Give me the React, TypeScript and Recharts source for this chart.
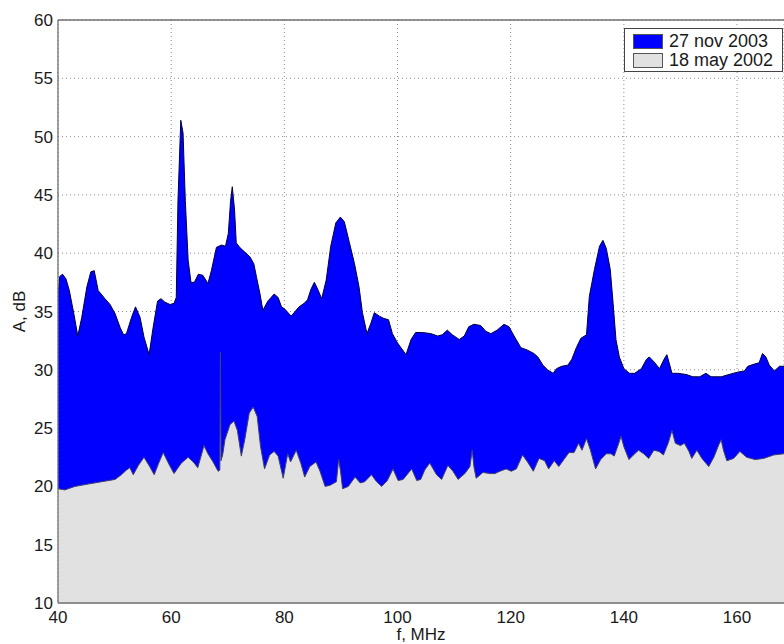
import { AreaChart, Area, XAxis, YAxis, CartesianGrid, ReferenceLine, Label } from "recharts";

// 27 nov 2003 spectrum (upper, blue)
const novFreq = [
  40.0, 40.3, 40.8, 41.4, 42.0, 42.8, 43.5, 44.2, 45.1, 45.8, 46.4, 47.1, 48.3, 49.2, 50.1, 51.0, 51.6, 52.1,
  53.0, 53.7, 54.5, 55.2, 56.1, 56.8, 57.6, 58.2, 58.9, 59.8, 60.5, 60.9, 61.2, 61.7, 62.1, 62.5, 63.0, 63.5,
  64.1, 64.8, 65.6, 66.5, 67.1, 68.0, 68.9, 69.6, 70.1, 70.5, 70.8, 71.2, 71.5, 72.1, 73.0, 73.9, 74.6, 75.1,
  75.7, 76.2, 77.1, 78.2, 78.9, 79.5, 80.1, 81.2, 82.6, 83.5, 84.1, 84.7, 85.3, 85.9, 86.6, 87.4, 88.2, 89.1,
  89.9, 90.6, 91.5, 92.4, 93.2, 93.8, 94.6, 95.3, 95.9, 96.8, 97.6, 98.4, 99.1, 100.0, 100.9, 101.5, 102.4,
  103.2, 104.4, 105.9, 107.1, 107.9, 108.8, 109.7, 110.9, 111.8, 112.6, 113.5, 114.7, 115.6, 116.5, 117.6,
  118.8, 119.7, 120.6, 121.8, 122.9, 124.1, 124.8, 125.7, 126.5, 127.5, 128.1, 129.0, 130.1, 130.8, 131.6,
  132.4, 133.4, 133.9, 134.8, 135.7, 136.3, 136.9, 137.6, 138.1, 138.6, 139.2, 140.0, 141.0, 141.9, 143.1,
  144.0, 144.5, 145.3, 146.3, 147.1, 147.6, 148.0, 148.5, 149.5, 151.0, 152.2, 153.4, 154.5, 155.4, 157.2,
  158.6, 160.1, 161.3, 161.9, 163.1, 163.9, 164.5, 165.1, 165.7, 166.6, 167.5, 168.3,
];
const novLevel = [
  36.2, 38.0, 38.2, 37.8, 36.8, 34.8, 32.9, 34.5, 37.1, 38.4, 38.5, 36.8, 36.1, 35.6, 34.8, 33.6, 33.0, 33.1,
  34.5, 35.4, 34.5, 32.8, 31.3, 33.6, 35.9, 36.1, 35.8, 35.6, 35.7, 36.2, 44.5, 51.4, 50.3, 44.5, 39.4, 37.5,
  37.5, 38.2, 38.1, 37.4, 38.5, 40.5, 40.7, 40.6, 41.7, 44.5, 45.7, 43.7, 40.9, 40.5, 40.1, 39.7, 39.1, 37.9,
  36.5, 35.1, 35.9, 36.5, 36.2, 35.4, 35.2, 34.6, 35.4, 35.7, 36.0, 36.9, 37.5, 36.9, 36.1, 37.7, 40.6, 42.6,
  43.1, 42.7, 40.9, 39.1, 37.1, 34.9, 33.1, 34.0, 34.9, 34.6, 34.4, 34.3, 33.1, 32.3, 31.7, 31.3, 32.6,
  33.2, 33.2, 33.1, 32.9, 33.0, 33.4, 33.0, 32.6, 32.9, 33.7, 33.9, 33.8, 33.3, 33.1, 33.4,
  33.9, 33.7, 32.9, 31.9, 31.7, 31.4, 31.1, 30.4, 30.0, 29.7, 30.1, 30.3, 30.4, 30.9, 31.9,
  32.7, 33.0, 36.3, 38.6, 40.6, 41.1, 40.4, 38.6, 35.7, 32.6, 31.1, 30.1, 29.7, 29.7, 30.1,
  30.9, 31.1, 30.7, 30.1, 30.9, 31.3, 30.6, 29.7, 29.7, 29.6, 29.4, 29.4, 29.7, 29.4, 29.4,
  29.6, 29.8, 29.9, 30.3, 30.5, 30.6, 31.4, 31.1, 30.4, 29.9, 30.3, 30.3,
];

// 18 may 2002 spectrum (lower, grey)
const mayFreq = [
  40.0, 41.2, 43.0, 45.3, 47.7, 50.1, 51.2, 52.1, 52.7, 53.3, 54.2, 55.2, 56.2, 57.0, 57.8, 58.6, 59.5, 60.5,
  61.8, 63.0, 63.9, 64.7, 65.4, 65.8, 66.5, 67.4, 68.3, 68.6, 68.7, 68.8, 69.1, 69.5, 70.4, 71.1, 71.7, 72.4,
  73.0, 73.8, 74.5, 75.2, 75.8, 76.5, 77.4, 78.2, 78.9, 79.8, 80.4, 80.6, 81.1, 82.1, 82.9, 83.6, 84.5, 85.6,
  86.3, 87.2, 88.1, 89.2, 89.6, 89.9, 90.3, 91.3, 92.5, 93.4, 94.2, 95.4, 96.3, 97.2, 98.2, 99.2, 100.1,
  101.0, 102.5, 103.4, 104.1, 104.8, 105.7, 106.9, 107.8, 108.9, 109.8, 110.7, 111.9, 112.8, 113.2, 113.5,
  113.9, 115.1, 116.3, 117.2, 118.1, 119.2, 120.1, 121.0, 122.1, 123.1, 124.0, 125.0, 126.0, 126.7, 127.7,
  128.5, 129.4, 130.3, 131.2, 132.0, 132.6, 133.4, 134.1, 135.0, 135.9, 136.9, 137.7, 138.3, 139.1, 139.5,
  140.0, 140.9, 141.7, 142.6, 143.5, 144.4, 145.3, 146.2, 147.0, 147.9, 148.5, 149.1, 150.0, 150.7, 151.5,
  152.0, 152.9, 153.8, 155.0, 155.9, 156.8, 157.2, 157.6, 158.2, 159.4, 160.5, 161.7, 163.2, 164.7, 166.5,
  168.3,
];
const mayLevel = [
  19.8, 19.7, 20.0, 20.2, 20.4, 20.6, 21.0, 21.4, 21.6, 21.0, 21.8, 22.5, 21.7, 21.0, 22.0, 22.9, 22.0, 21.1,
  22.0, 22.5, 22.1, 21.6, 22.8, 23.5, 22.8, 22.1, 21.3, 21.4, 31.5, 22.2, 22.7, 24.0, 25.3, 25.6, 24.8, 22.6,
  24.0, 26.3, 26.8, 26.0, 23.4, 21.5, 22.7, 23.0, 22.6, 20.7, 22.3, 22.8, 22.1, 23.1, 22.0, 20.8, 21.7, 22.1,
  21.3, 20.0, 20.1, 20.4, 22.3, 21.4, 19.8, 20.0, 20.8, 20.3, 20.4, 21.0, 20.4, 20.0, 20.5, 21.5, 20.5,
  20.6, 21.5, 20.5, 20.6, 21.4, 22.0, 21.0, 20.6, 21.8, 21.3, 20.6, 21.1, 21.7, 23.1, 21.7,
  20.7, 21.2, 21.1, 21.1, 21.3, 21.5, 21.3, 21.5, 22.7, 22.0, 21.3, 22.4, 22.2, 21.5, 22.2,
  21.7, 22.3, 22.9, 22.9, 23.7, 23.1, 24.1, 23.1, 21.5, 22.3, 22.8, 22.8, 22.6, 23.7, 24.3,
  23.4, 22.3, 22.7, 23.1, 22.8, 22.4, 23.1, 23.0, 22.7, 23.8, 24.8, 23.7, 23.5, 23.7, 23.0,
  22.4, 23.1, 22.4, 21.7, 22.5, 23.6, 24.0, 23.1, 22.2, 22.4, 23.0, 22.5, 22.3, 22.4, 22.7,
  22.8,
];

const xTicks = [40, 60, 80, 100, 120, 140, 160];
const yTicks = [10, 15, 20, 25, 30, 35, 40, 45, 50, 55, 60];
const seriesNames = ["27 nov 2003", "18 may 2002"];

const novData = novFreq.map((f, i) => ({ f, a: novLevel[i] }));
const mayData = mayFreq.map((f, i) => ({ f, a: mayLevel[i] }));

const font = "'Liberation Sans', Arial, sans-serif";
const tickStyle = { fontSize: 17, fill: "#1a1a1a", fontFamily: font };
const spine = { stroke: "#707070", strokeWidth: 1.3 };

export default function App() {
  return (
    <div style={{ position: "absolute", left: 0, top: 0, width: 784, height: 644, background: "#fff", overflow: "hidden" }}>
      <AreaChart width={784} height={644} margin={{ top: 20, right: 0, bottom: 0, left: 0 }}>
        <CartesianGrid stroke="#8a8a8a" strokeDasharray="1 3" />
        <XAxis
          dataKey="f"
          type="number"
          domain={[40, 168.3]}
          ticks={xTicks}
          allowDataOverflow
          height={41}
          tickLine={false}
          tickSize={0}
          tickMargin={8}
          axisLine={spine}
          tick={tickStyle}
        >
          <Label value="f, MHz" position="insideBottom" offset={4} style={{ fontSize: 17, fill: "#1a1a1a", fontFamily: font }} />
        </XAxis>
        <YAxis
          type="number"
          domain={[10, 60]}
          ticks={yTicks}
          allowDataOverflow
          width={58}
          tickLine={false}
          tickSize={0}
          tickMargin={5}
          axisLine={spine}
          tick={tickStyle}
        >
          <Label
            value="A, dB"
            angle={-90}
            position="insideLeft"
            offset={19}
            style={{ fontSize: 17, fill: "#1a1a1a", fontFamily: font, textAnchor: "middle" }}
          />
        </YAxis>
        <ReferenceLine y={60} stroke="#707070" strokeWidth={1.3} ifOverflow="visible" />
        <Area
          data={novData}
          dataKey="a"
          name={seriesNames[0]}
          type="linear"
          fill="#0000ff"
          fillOpacity={1}
          stroke="#000040"
          strokeWidth={1}
          isAnimationActive={false}
          dot={false}
          activeDot={false}
        />
        <Area
          data={mayData}
          dataKey="a"
          name={seriesNames[1]}
          type="linear"
          fill="#e1e1e1"
          fillOpacity={1}
          stroke="#404070"
          strokeWidth={1}
          isAnimationActive={false}
          dot={false}
          activeDot={false}
        />
      </AreaChart>
      <div
        style={{
          position: "absolute",
          left: 624,
          top: 28,
          width: 159,
          height: 44,
          boxSizing: "border-box",
          border: "1px solid #444",
          background: "#fff",
          fontFamily: font,
          fontSize: 18,
          color: "#1a1a1a",
        }}
      >
        {seriesNames.map((name, i) => (
          <div key={name} style={{ position: "absolute", left: 8, top: 4 + i * 19, display: "flex", alignItems: "center", height: 17 }}>
            <span
              style={{
                display: "inline-block",
                width: 30,
                height: 15,
                boxSizing: "border-box",
                border: "1px solid #555",
                background: i === 0 ? "#0000ff" : "#e1e1e1",
                marginRight: 6,
              }}
            />
            <span style={{ lineHeight: "17px", whiteSpace: "nowrap" }}>{name}</span>
          </div>
        ))}
      </div>
    </div>
  );
}
